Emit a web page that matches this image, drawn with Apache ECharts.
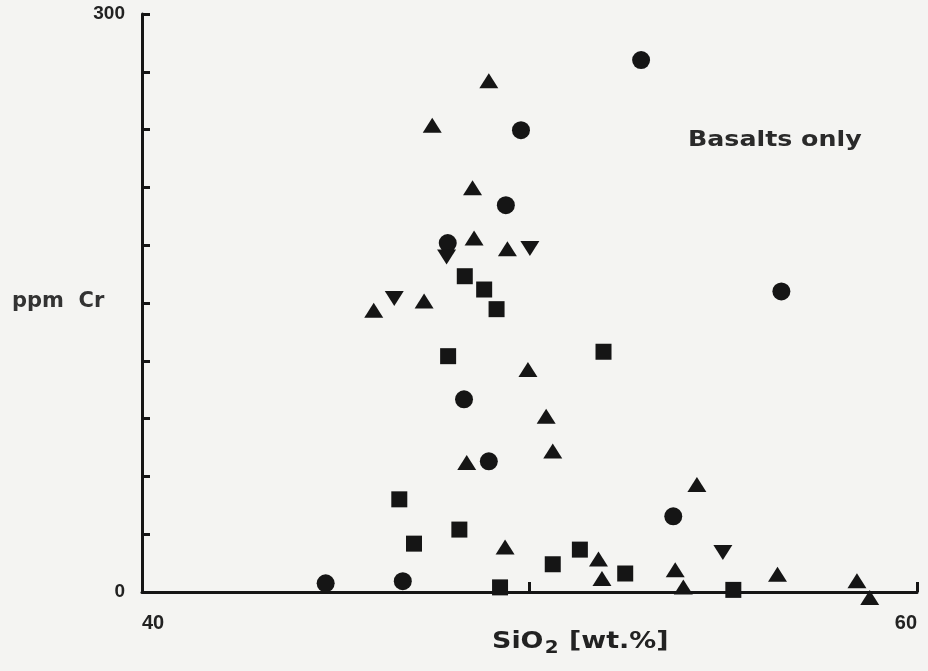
<!DOCTYPE html>
<html>
<head>
<meta charset="utf-8">
<title>Cr vs SiO2 — basalts</title>
<script src="https://cdn.jsdelivr.net/npm/echarts@6/dist/echarts.min.js"></script>
<style>
  html, body { margin: 0; padding: 0; background: #f4f4f2; }
  #chart { width: 928px; height: 671px; }
</style>
</head>
<body>
<div id="chart"></div>
<script>
// SiO2 (wt.%) and Cr (ppm) for each basalt sample, grouped by symbol
const circleSiO2 = [52.88, 49.78, 49.39, 47.89, 56.50, 48.31, 48.95, 53.71, 44.74, 46.73];
const circleCr   = [276.1, 239.7, 200.8, 181.1, 156.0, 100.0, 67.8, 39.3, 4.5, 5.6];

const triangleSiO2 = [48.95, 47.49, 48.53, 48.57, 49.43, 45.98, 47.28, 49.96, 50.43, 50.60,
                      48.38, 49.37, 51.78, 51.87, 54.32, 53.76, 53.97, 56.40, 58.45, 58.78];
const triangleCr   = [265.3, 242.3, 209.8, 183.8, 178.1, 146.3, 151.1, 115.5, 91.2, 73.2,
                      67.2, 23.4, 17.1, 7.0, 55.8, 11.6, 2.6, 9.2, 5.9, -2.8];

const invTriangleSiO2 = [46.51, 50.01, 47.86, 54.99];
const invTriangleCr   = [152.3, 178.3, 173.9, 20.5];

const squareSiO2 = [48.33, 48.83, 49.15, 47.90, 51.91, 46.64, 48.19, 47.02, 50.60, 51.30,
                    52.47, 49.24, 55.26];
const squareCr   = [163.9, 157.0, 146.8, 122.4, 124.7, 48.1, 32.4, 25.1, 14.4, 22.0,
                    9.6, 2.4, 1.1];

// Axis ranges and which tick values carry a label
const xMin = 40, xMax = 60, xStep = 10;
const yMin = 0, yMax = 300, yStep = 30;
const xLabelValues = [40, 60];
const yLabelValues = [0, 300];

const ink = '#151515';
const textInk = '#222';
const font = '"DejaVu Sans", "Liberation Sans", sans-serif';
const digitFont = '"Liberation Sans", Arial, sans-serif';

function pairs(xs, ys) {
  return xs.map((x, i) => [x, ys[i]]);
}

function scatter(name, xs, ys, symbol, size, rotate) {
  return {
    name: name,
    type: 'scatter',
    clip: false,
    symbol: symbol,
    symbolSize: size,
    symbolRotate: rotate || 0,
    itemStyle: { color: ink, opacity: 1 },
    data: pairs(xs, ys),
    z: 3
  };
}

const chart = echarts.init(document.getElementById('chart'), null, { renderer: 'canvas' });

chart.setOption({
  backgroundColor: '#f4f4f2',
  animation: false,
  grid: { left: 142, right: 11, top: 14, bottom: 79, containLabel: false, outerBoundsMode: 'none' },
  xAxis: {
    type: 'value',
    min: xMin, max: xMax, interval: xStep,
    splitLine: { show: false },
    axisLine: { show: true, onZero: false, lineStyle: { color: ink, width: 3 } },
    axisTick: { show: true, inside: true, length: 10, lineStyle: { color: ink, width: 3 } },
    axisLabel: {
      margin: 21,
      color: textInk,
      fontFamily: digitFont,
      fontWeight: 'bold',
      fontSize: 20,
      alignMinLabel: 'left',
      alignMaxLabel: 'right',
      formatter: v => xLabelValues.includes(v) ? String(v) : ''
    }
  },
  yAxis: {
    type: 'value',
    min: yMin, max: yMax, interval: yStep,
    splitLine: { show: false },
    axisLine: { show: true, onZero: false, lineStyle: { color: ink, width: 3 } },
    axisTick: { show: true, inside: true, length: 8, lineStyle: { color: ink, width: 3 } },
    axisLabel: {
      margin: 17,
      color: textInk,
      fontFamily: digitFont,
      fontWeight: 'bold',
      fontSize: 19,
      formatter: v => yLabelValues.includes(v) ? String(v) : ''
    }
  },
  graphic: [
    {
      type: 'text',
      left: 12, top: 291,
      style: {
        text: 'ppm  Cr',
        fill: '#333',
        font: 'bold 21px ' + font
      }
    },
    {
      type: 'text',
      x: 688, y: 129,
      scaleX: 1.15,
      style: {
        text: 'Basalts only',
        fill: '#2a2a2a',
        font: 'bold 22px ' + font
      }
    },
    {
      type: 'text',
      x: 492, y: 628,
      scaleX: 1.17,
      style: {
        text: '{m|SiO}{s|2}{m| [wt.%]}',
        fill: textInk,
        rich: {
          m: { fontFamily: font, fontWeight: 'bold', fontSize: 23, fill: textInk, lineHeight: 28 },
          s: { fontFamily: font, fontWeight: 'bold', fontSize: 17, fill: textInk, padding: [14, 1, 0, 1], lineHeight: 28 }
        }
      }
    }
  ],
  series: [
    scatter('circle', circleSiO2, circleCr, 'circle', 18),
    scatter('triangle', triangleSiO2, triangleCr, 'triangle', [19, 15]),
    scatter('inverted triangle', invTriangleSiO2, invTriangleCr, 'triangle', [19, 15], 180),
    scatter('square', squareSiO2, squareCr, 'rect', 16)
  ]
});
</script>
</body>
</html>
